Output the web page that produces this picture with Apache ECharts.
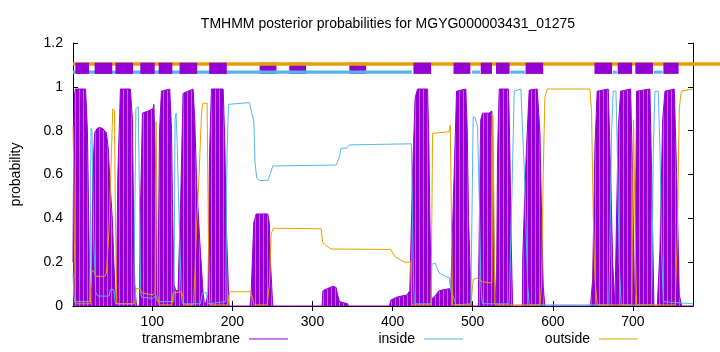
<!DOCTYPE html>
<html>
<head>
<meta charset="utf-8">
<script src="https://cdn.jsdelivr.net/npm/echarts@6/dist/echarts.min.js"></script>
<style>
html, body { margin: 0; padding: 0; background: #fff; }
#chart { width: 720px; height: 352px; }
</style>
</head>
<body>
<div id="chart"></div>
<script>
// tick positions on the residue axis
const xTicks = [100, 200, 300, 400, 500, 600, 700];

// posterior probabilities, [residue, p]
const transmembrane = [
  [1, 0.2], [2, 0.85], [3, 0.97], [4.2, 0.99], [16.7, 0.99], [19, 0.8], [21.7, 0.15], [23, 0],
  [24.5, 0.1], [25.5, 0.6], [28.1, 0.79], [31, 0.81], [34.3, 0.815], [38, 0.81], [42.7, 0.79], [45, 0.72],
  [46.8, 0.59], [50.2, 0.39], [52, 0.2], [54.3, 0],
  [55.2, 0.05], [57, 0.6], [60.2, 0.99], [72.7, 0.99], [75.2, 0.85], [76.5, 0.45], [78.1, 0.1], [80.2, 0],
  [84, 0], [85, 0.4], [87.7, 0.88], [95, 0.89], [100.9, 0.9], [102, 0.92], [104.3, 0.6], [105.5, 0.2], [106.4, 0],
  [107.2, 0.1], [109, 0.8], [111.4, 0.98], [121.8, 0.99], [124, 0.8], [125.1, 0.5], [127, 0.1], [129.3, 0.07],
  [132.2, 0.07], [135.5, 0.5], [138.4, 0.97], [150.9, 0.99], [153, 0.85], [155.5, 0.55], [159.2, 0.3],
  [163.4, 0.06], [165.5, 0],
  [169.6, 0.05], [171.5, 0.7], [173.8, 0.99], [188.5, 0.99], [190.5, 0.75], [192.5, 0.35], [195.8, 0],
  [222, 0], [223.3, 0.05], [226.7, 0.38], [229.6, 0.42], [244.2, 0.42], [246, 0.38], [247.5, 0.2], [250.4, 0],
  [312, 0], [312.9, 0.07], [319, 0.08], [325.3, 0.09], [329.4, 0.085], [331.5, 0.05], [333.7, 0.02], [344, 0.01], [345, 0],
  [396, 0], [397.8, 0.027], [405, 0.04], [410.3, 0.045], [418, 0.05], [421.5, 0.07], [424.9, 0.6], [428.1, 0.95],
  [431.1, 0.99], [443.6, 0.99], [445, 0.8], [446.5, 0.4], [448.6, 0.03],
  [451, 0.04], [454, 0.05], [458, 0.07], [464.3, 0.075], [472.7, 0.08], [476, 0.5], [479.8, 0.98], [491.4, 0.99],
  [493.2, 0.8], [494.8, 0.4], [498.1, 0],
  [507, 0], [508, 0.3], [510, 0.85], [512.3, 0.88], [520, 0.88], [523.9, 0.89], [525, 0.7], [526.8, 0.2], [529, 0],
  [529.8, 0.1], [531, 0.7], [533.1, 0.99], [544.8, 0.99], [546.4, 0.7], [548, 0.3], [549.8, 0],
  [562, 0], [562.5, 0.23], [566.4, 0.65], [568, 0.79], [570.5, 0.985], [580.5, 0.99], [583.9, 0.79], [586, 0.41],
  [588, 0.09], [590.1, 0],
  [647, 0], [649.7, 0.12], [652.6, 0.73], [655.4, 0.98], [669.2, 0.99], [672.2, 0.6], [674.7, 0.2], [677.5, 0],
  [678.8, 0], [681.6, 0.8], [684.6, 0.98], [697.1, 0.99], [699.6, 0.6], [701.5, 0.1], [702.5, 0.05], [703.5, 0.5],
  [704.6, 0.98], [721.2, 0.99], [723.4, 0.6], [726.2, 0],
  [730.4, 0], [733.7, 0.25], [737.1, 0.85], [740, 0.98], [751.6, 0.99], [754.6, 0.6], [757.9, 0.05], [760.8, 0],
  [775, 0]
];

const inside = [
  [1, 0.15], [2, 0.05], [3.1, 0.02], [21.9, 0.02], [22.7, 0.3], [23.5, 0.81], [24.7, 0.8], [26.9, 0.3],
  [29.4, 0.06], [32.2, 0.045], [46, 0.045], [47.7, 0.075], [51.8, 0.075], [54, 0.01], [76.8, 0.01],
  [78.4, 0.5], [79.5, 0.9], [82.5, 0.91], [84, 0.5], [85.5, 0.06], [86.8, 0.04], [100.9, 0.035], [104.3, 0.05],
  [106.4, 0.02], [126.8, 0.02], [127.5, 0.3], [128.4, 0.85], [129.7, 0.88], [131, 0.75], [133.4, 0.4],
  [136.4, 0.05], [137.5, 0.01], [160.1, 0.01], [162.6, 0.06], [167.6, 0.06], [169.6, 0.01], [191.7, 0.02],
  [193.3, 0.7], [195.1, 0.92], [196.3, 0.928], [221.3, 0.928], [224.2, 0.88], [226.7, 0.84], [228.3, 0.65],
  [230.4, 0.583], [233.8, 0.572], [244.2, 0.574], [247.5, 0.605], [250.4, 0.639], [329.5, 0.643],
  [333.7, 0.681], [335.7, 0.72], [342, 0.72], [346.2, 0.735], [420.6, 0.74], [422, 0.745], [423.5, 0.74],
  [425.6, 0.2], [426.9, 0.01], [448, 0.01], [449, 0.19], [453.1, 0.196], [458.1, 0.15], [466.5, 0.135],
  [470.6, 0.13], [472.7, 0.07], [476.9, 0.03], [479, 0.005], [497.7, 0.01], [500.6, 0.864], [503.1, 0.86],
  [506, 0.82], [508.1, 0.5], [510.2, 0.1], [512, 0.01], [545.5, 0.01], [548.9, 0.5], [551.8, 0.98],
  [560.1, 0.99], [562.2, 0.8], [564.2, 0.64], [566.4, 0.37], [568.5, 0.1], [570.5, 0.005], [670, 0.005],
  [671.3, 0.3], [673.4, 0.8], [675.4, 0.98], [678.8, 0.98], [680.4, 0.73], [682.9, 0.2], [685.4, 0.005],
  [723, 0.005], [723.7, 0.1], [725.4, 0.7], [727.5, 0.98], [731.6, 0.98], [733.7, 0.72], [735.9, 0.25],
  [737.9, 0.02], [775, 0.01]
];

const outside = [
  [1, 0.82], [2, 0.6], [2.7, 0.3], [4, 0.01], [22.7, 0.01], [23.5, 0.1], [24.4, 0.16], [26.9, 0.16],
  [30.2, 0.135], [40.6, 0.135], [42.7, 0.15], [46, 0.35], [49, 0.7], [50.6, 0.9], [52.7, 0.89], [54, 0.4],
  [55.6, 0.01], [78.1, 0.01], [79.7, 0.08], [84.3, 0.08], [86.8, 0.06], [100.9, 0.05], [103.4, 0.06],
  [104.7, 0.84], [105.5, 0.84], [106.8, 0.05], [108.4, 0.005], [124.5, 0.005], [126, 0.06], [127.5, 0.065],
  [136.4, 0.065], [138, 0.05], [139.5, 0.005], [151.7, 0.005], [155.1, 0.35], [158.4, 0.6], [161.4, 0.88],
  [163, 0.925], [168.4, 0.925], [170.1, 0.3], [171.7, 0.005], [194.5, 0.005], [196.3, 0.065], [222.5, 0.065],
  [225, 0.04], [227, 0.005], [243.3, 0.005], [246.3, 0.1], [248.3, 0.33], [251.3, 0.355], [310.7, 0.352],
  [312.8, 0.29], [317, 0.275], [323.2, 0.26], [397.8, 0.258], [400, 0.25], [403, 0.225], [410, 0.21],
  [415, 0.2], [422.7, 0.2], [424, 0.005], [448, 0.005], [449.9, 0.788], [452, 0.795], [470.6, 0.795],
  [472, 0.826], [474, 0.826], [474.8, 0.005], [497.7, 0.005], [500.6, 0.12], [505, 0.128], [512.3, 0.11],
  [523.9, 0.105], [525.2, 0.87], [526.4, 0.87], [527.7, 0.005], [584, 0.005], [586, 0.1], [588, 0.6],
  [590.1, 0.95], [593, 0.99], [646.3, 0.99], [648.4, 0.88], [650.4, 0.42], [652.6, 0.12], [655.4, 0.005],
  [698.6, 0.005], [699.8, 0.5], [700.8, 0.85], [701.8, 0.85], [703.4, 0.2], [704.6, 0.005], [752.5, 0.005],
  [755.4, 0.3], [757.9, 0.9], [760.4, 0.98], [775, 0.99]
];

// predicted topology shown above the curves, [from, to]
const tmRegions = [[4, 21], [28, 50], [54, 76], [85, 103], [108, 125], [134, 156], [171, 193],
  [426, 448], [476, 497], [510, 524], [529, 546], [566, 588], [652, 674], [681, 699], [703, 725], [738, 757]];
const tmRegionsUnder = [[234, 255], [271, 292], [346, 367]];
const insideRegions = [[1, 424], [499, 509], [547, 565], [675, 680], [726, 737]];
const outsideRegions = [[1, 809]];

const PURPLE = '#9400d3';
const BLUE = '#56b4e9';
const ORANGE = '#e69f00';
const FONT = '"Liberation Sans", Arial, sans-serif';
const FS = 14;

function stripePattern() {
  const c = document.createElement('canvas');
  c.width = 4;
  c.height = 4;
  const ctx = c.getContext('2d');
  ctx.fillStyle = PURPLE;
  ctx.fillRect(0, 0, 4, 4);
  ctx.fillStyle = '#b565e6';
  ctx.fillRect(3, 0, 1, 4);
  return c;
}

function boxes(list, lo, hi, color, z) {
  return {
    type: 'custom',
    z: z,
    silent: true,
    clip: false,
    data: list.map((d) => [d[0], d[1], lo, hi]),
    encode: { x: [0, 1], y: [2, 3] },
    renderItem: (params, api) => {
      const a = api.coord([api.value(0), api.value(3)]);
      const b = api.coord([api.value(1), api.value(2)]);
      return {
        type: 'rect',
        shape: { x: a[0], y: a[1], width: b[0] - a[0], height: b[1] - a[1] },
        style: { fill: color },
      };
    },
  };
}

function legendFor(name, color, right) {
  return {
    data: [{ name: name, itemStyle: { color: color } }],
    top: 332,
    right: right,
    padding: 0,
    align: 'right',
    icon: 'rect',
    itemWidth: 39,
    itemHeight: 1,
    selectedMode: false,
    textStyle: { fontFamily: FONT, fontSize: FS, color: '#000', padding: [0, 4, 0, 0] },
  };
}

const tickSide = {
  axisLine: { show: true, lineStyle: { color: '#000', width: 1 } },
  axisTick: { show: true, inside: true, length: 5, lineStyle: { color: '#000' } },
  splitLine: { show: false },
};

const chartOption = {
  animation: false,
  title: {
    text: 'TMHMM posterior probabilities for MGYG000003431_01275',
    left: 383,
    top: 12,
    textAlign: 'center',
    textStyle: { fontFamily: FONT, fontSize: FS, fontWeight: 'normal', color: '#000' },
  },
  legend: [
    legendFor('transmembrane', PURPLE, 432),
    legendFor('inside', BLUE, 257),
    legendFor('outside', ORANGE, 82),
  ],
  grid: { left: 73, right: 27, top: 43, bottom: 46 },
  xAxis: [
    {
      type: 'value', min: 1, max: 775, position: 'bottom', ...tickSide,
      axisTick: { ...tickSide.axisTick, customValues: xTicks },
      axisLabel: { customValues: xTicks, color: '#000', fontFamily: FONT, fontSize: FS, margin: 9 },
    },
    {
      type: 'value', min: 1, max: 775, position: 'top', ...tickSide,
      axisTick: { ...tickSide.axisTick, customValues: xTicks },
      axisLabel: { show: false },
    },
  ],
  yAxis: [
    {
      type: 'value', min: 0, max: 1.2, interval: 0.2, position: 'left', ...tickSide,
      name: 'probability', nameLocation: 'middle', nameGap: 50,
      nameTextStyle: { fontFamily: FONT, fontSize: FS, color: '#000' },
      axisLabel: { color: '#000', fontFamily: FONT, fontSize: FS, margin: 10 },
    },
    {
      type: 'value', min: 0, max: 1.2, interval: 0.2, position: 'right', ...tickSide,
      axisLabel: { show: false },
    },
  ],
  series: [
    {
      name: 'transmembrane',
      type: 'line',
      data: transmembrane,
      showSymbol: false,
      z: 2,
      lineStyle: { color: PURPLE, width: 1 },
      itemStyle: { color: PURPLE },
      areaStyle: { color: { image: stripePattern(), repeat: 'repeat' }, opacity: 1 },
    },
    {
      name: 'inside',
      type: 'line',
      data: inside,
      showSymbol: false,
      z: 3,
      lineStyle: { color: BLUE, width: 1 },
      itemStyle: { color: BLUE },
    },
    {
      name: 'outside',
      type: 'line',
      data: outside,
      showSymbol: false,
      z: 3,
      lineStyle: { color: ORANGE, width: 1 },
      itemStyle: { color: ORANGE },
    },
    boxes(tmRegionsUnder, 1.059, 1.110, PURPLE, 4),
    boxes(outsideRegions, 1.096, 1.112, ORANGE, 5),
    boxes(insideRegions, 1.060, 1.074, BLUE, 5),
    boxes(tmRegions, 1.059, 1.110, PURPLE, 6),
  ],
};

const myChart = echarts.init(document.getElementById('chart'));
myChart.setOption(chartOption);
</script>
</body>
</html>
